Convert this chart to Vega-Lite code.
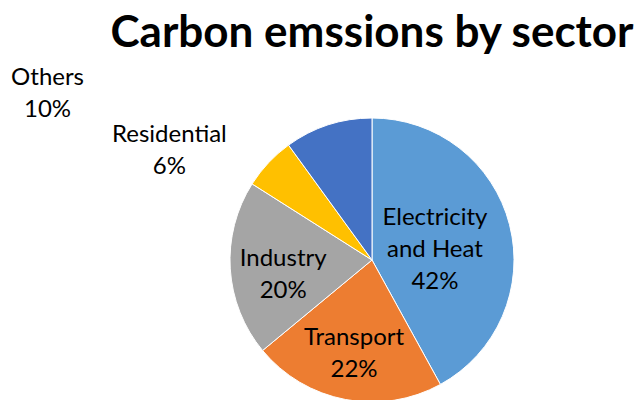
{
  "$schema": "https://vega.github.io/schema/vega-lite/v6.json",
  "width": 284,
  "height": 284,
  "autosize": {"type": "none"},
  "padding": {"left": 230, "top": 118, "right": 126, "bottom": 0},
  "background": "white",
  "view": {"stroke": null},
  "title": {
    "text": "Carbon emssions by sector",
    "font": "Lato",
    "fontSize": 44,
    "fontWeight": "bold",
    "color": "#000000",
    "anchor": "middle",
    "frame": "group",
    "baseline": "alphabetic",
    "offset": 10,
    "dy": 35
  },
  "data": {
    "values": [
      {"idx": 1, "sector": "Electricity and Heat", "value": 42, "label": "Electricity\nand Heat\n42%"},
      {"idx": 2, "sector": "Transport", "value": 22, "label": "Transport\n22%"},
      {"idx": 3, "sector": "Industry", "value": 20, "label": "Industry\n20%"},
      {"idx": 4, "sector": "Residential", "value": 6, "label": "Residential\n6%"},
      {"idx": 5, "sector": "Others", "value": 10, "label": "Others\n10%"}
    ]
  },
  "encoding": {
    "theta": {"field": "value", "type": "quantitative", "stack": true},
    "order": {"field": "idx", "type": "quantitative"}
  },
  "layer": [
    {
      "mark": {"type": "arc", "outerRadius": 142, "stroke": "#ffffff", "strokeWidth": 1},
      "encoding": {
        "color": {
          "field": "sector",
          "type": "nominal",
          "scale": {
            "domain": ["Electricity and Heat", "Transport", "Industry", "Residential", "Others"],
            "range": ["#5B9BD5", "#ED7D31", "#A5A5A5", "#FFC000", "#4472C4"]
          },
          "legend": null
        }
      }
    },
    {
      "mark": {"type": "text", "radius": 65, "dy": -26, "font": "Lato", "fontSize": 24, "lineBreak": "\n", "lineHeight": 32, "align": "center", "baseline": "middle", "color": "#000000"},
      "encoding": {
        "detail": {"field": "sector"},
        "text": {"condition": {"test": "datum.sector === 'Electricity and Heat'", "field": "label"}, "value": ""}
      }
    },
    {
      "mark": {"type": "text", "radius": 96, "dy": -16, "font": "Lato", "fontSize": 24, "lineBreak": "\n", "lineHeight": 32, "align": "center", "baseline": "middle", "color": "#000000"},
      "encoding": {
        "detail": {"field": "sector"},
        "text": {"condition": {"test": "datum.sector === 'Transport'", "field": "label"}, "value": ""}
      }
    },
    {
      "mark": {"type": "text", "radius": 88, "dy": -7, "dx": -1, "font": "Lato", "fontSize": 24, "lineBreak": "\n", "lineHeight": 32, "align": "center", "baseline": "middle", "color": "#000000"},
      "encoding": {
        "detail": {"field": "sector"},
        "text": {"condition": {"test": "datum.sector === 'Industry'", "field": "label"}, "value": ""}
      }
    },
    {
      "mark": {"type": "text", "radius": 160, "dx": -86, "dy": -15, "font": "Lato", "fontSize": 24, "lineBreak": "\n", "lineHeight": 32, "align": "center", "baseline": "middle", "color": "#000000"},
      "encoding": {
        "detail": {"field": "sector"},
        "text": {"condition": {"test": "datum.sector === 'Residential'", "field": "label"}, "value": ""}
      }
    },
    {
      "mark": {"type": "text", "radius": 160, "dx": -275, "dy": -30, "font": "Lato", "fontSize": 24, "lineBreak": "\n", "lineHeight": 32, "align": "center", "baseline": "middle", "color": "#000000"},
      "encoding": {
        "detail": {"field": "sector"},
        "text": {"condition": {"test": "datum.sector === 'Others'", "field": "label"}, "value": ""}
      }
    }
  ]
}
